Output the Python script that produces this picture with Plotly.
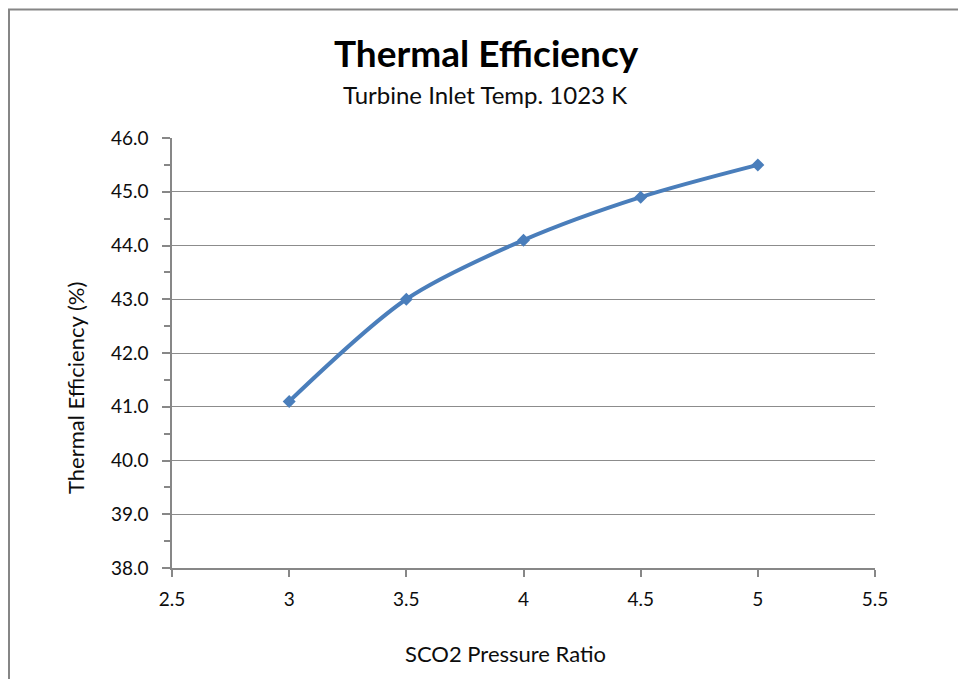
import plotly.graph_objects as go

pressure_ratio = [3, 3.5, 4, 4.5, 5]
efficiency = [41.1, 43.0, 44.1, 44.9, 45.5]

title_text = "Thermal Efficiency"
subtitle_text = "Turbine Inlet Temp. 1023 K"
x_title = "SCO2 Pressure Ratio"
y_title = "Thermal Efficiency (%)"

FONT = "Lato, 'Open Sans', sans-serif"
AXIS = "#878787"
GRID = "#8c8c8c"
LINE = "#4A7EBB"
TXT = "#0d0d0d"

# page body has an 8px margin; figure is placed at (8, 8) in the window
OFF = 8
WIN_W, WIN_H = 966, 679
W, H = WIN_W - OFF, WIN_H - OFF
PL, PR, PT, PB = 172, 875, 138, 568  # plot area in window pixels
L, T = PL - OFF, PT - OFF
R, B = W - (PR - OFF), H - (PB - OFF)
pw, ph = W - L - R, H - T - B

def px_x(p):  # window px -> paper
    return (p - OFF - L) / pw

def px_y(p):
    return (H - B - (p - OFF)) / ph

fig = go.Figure()
fig.add_trace(go.Scatter(
    x=pressure_ratio, y=efficiency, mode="lines+markers",
    line=dict(color=LINE, width=4, shape="spline", smoothing=0.85),
    marker=dict(symbol="diamond", size=10, color=LINE),
    showlegend=False, hoverinfo="x+y",
))

fig.update_layout(
    width=W, height=H,
    margin=dict(l=L, r=R, t=T, b=B, pad=0),
    paper_bgcolor="white", plot_bgcolor="white",
    font=dict(family=FONT, color=TXT, size=19),
    xaxis=dict(
        range=[2.5, 5.5], dtick=0.5, tick0=2.5, showgrid=False, zeroline=False,
        showline=True, linecolor=AXIS, linewidth=1.5,
        ticks="outside", ticklen=7, tickcolor=AXIS, tickwidth=1.5,
        tickfont=dict(size=19, family=FONT, color=TXT),
        ticklabelstandoff=6,
    ),
    yaxis=dict(
        range=[38, 46], dtick=1, tick0=38, tickformat=".1f",
        showgrid=True, gridcolor=GRID, gridwidth=1.2, zeroline=False,
        showline=True, linecolor=AXIS, linewidth=1.5,
        ticks="outside", ticklen=8, tickcolor=AXIS, tickwidth=1.5,
        tickfont=dict(size=19, family=FONT, color=TXT),
        ticklabelstandoff=10,
        minor=dict(dtick=0.5, ticks="outside", ticklen=6, tickcolor=AXIS, tickwidth=1.5, showgrid=False),
    ),
    shapes=[dict(
        type="rect", xref="paper", yref="paper",
        x0=px_x(9), x1=px_x(963.5), y0=px_y(700), y1=px_y(9.5),
        line=dict(color="#868686", width=2), fillcolor="rgba(0,0,0,0)", layer="below",
    )],
    annotations=[
        dict(text="<b>" + title_text + "</b>", xref="paper", yref="paper",
             x=px_x(486), y=px_y(52), showarrow=False, xanchor="center", yanchor="middle",
             font=dict(size=37, family=FONT, color="#000000")),
        dict(text=subtitle_text, xref="paper", yref="paper",
             x=px_x(485), y=px_y(94), showarrow=False, xanchor="center", yanchor="middle",
             font=dict(size=24, family=FONT, color=TXT)),
        dict(text=x_title, xref="paper", yref="paper",
             x=px_x(505), y=px_y(653), showarrow=False, xanchor="center", yanchor="middle",
             font=dict(size=22, family=FONT, color=TXT)),
        dict(text=y_title, xref="paper", yref="paper", textangle=-90,
             x=px_x(75), y=px_y(388), showarrow=False, xanchor="center", yanchor="middle",
             font=dict(size=22, family=FONT, color=TXT)),
    ],
)

fig.write_html("out.html")
